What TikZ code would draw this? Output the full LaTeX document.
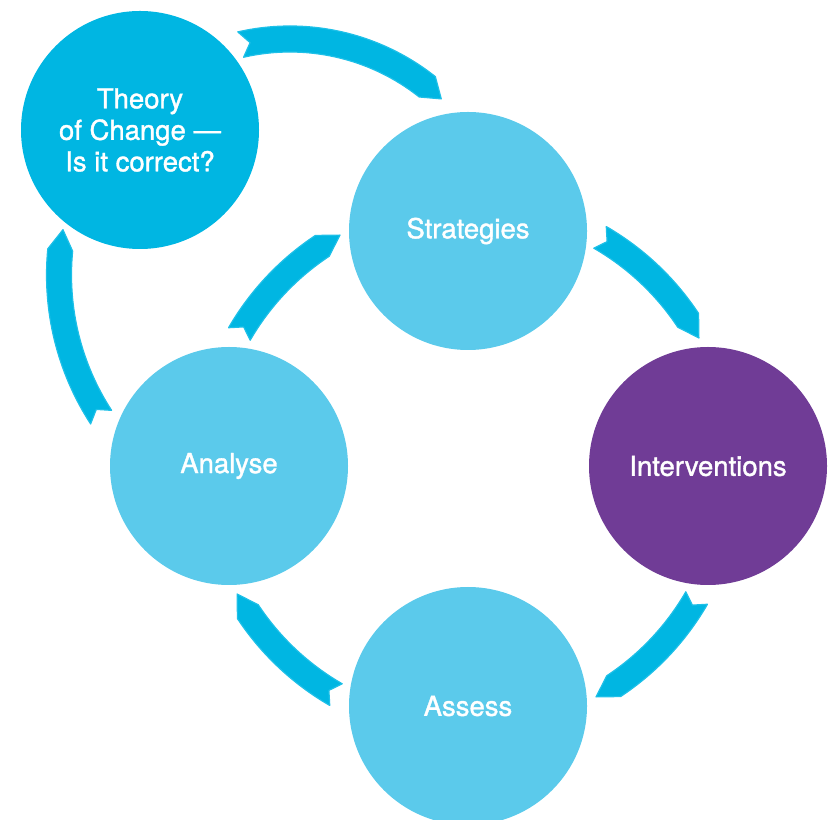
\documentclass[tikz,border=0pt]{standalone}
\usepackage{fontspec}
\setmainfont{TeX Gyre Heros}
\newfontfamily\lblfont{TeX Gyre Heros}[FakeBold=1.3]
\usetikzlibrary{calc}
\definecolor{arrowcol}{HTML}{00B6E2}
\definecolor{arrowedge}{HTML}{1EC0E8}
\definecolor{lightcirc}{HTML}{5BCAEB}
\definecolor{darkcirc}{HTML}{00B6E2}
\definecolor{purplecirc}{HTML}{703C96}
% #1 cx, #2 cy, #3 R, #4 w, #5 tail angle, #6 head angle, #7 tip angle, #8 notch angle
\newcommand{\cyclearrow}[8]{%
  \pgfmathsetmacro{\Ro}{#3+#4/2}%
  \pgfmathsetmacro{\Ri}{#3-#4/2}%
  \begin{scope}[shift={(#1,#2)}]
    \fill[arrowcol, draw=arrowedge, line width=1.2pt, line join=round]
      (#5:\Ro pt) arc[start angle=#5, end angle=#6, radius=\Ro pt]
      -- (#7:#3pt) -- (#6:\Ri pt)
      arc[start angle=#6, end angle=#5, radius=\Ri pt]
      -- (#8:#3pt) -- cycle;
  \end{scope}}
\tikzset{
  stage/.style={circle, minimum size=238pt, inner sep=0pt, text=white,
    font=\lblfont\fontsize{27.5}{31.5}\selectfont, align=center},
}
\begin{document}
\begin{tikzpicture}[x=1pt,y=1pt]
\useasboundingbox (0,0) rectangle (834,819);
% circles
\node[stage, fill=darkcirc] (theory) at (140,689) {Theory\\of Change —\\Is it correct?};
\node[stage, fill=lightcirc] (strat) at (468,588) {Strategies};
\node[stage, fill=purplecirc] (interv) at (708,353) {Interventions};
\node[stage, fill=lightcirc] (assess) at (468,113) {Assess};
\node[stage, fill=lightcirc] (analyse) at (229,353) {Analyse};
% main cycle arrows
\cyclearrow{468}{353}{264}{25}{60}{33.5}{29}{58.2}
\cyclearrow{468}{353}{264}{25}{-30}{-56.5}{-61}{-31.8}
\cyclearrow{468}{353}{264}{25}{-120}{-146.5}{-151}{-121.8}
\cyclearrow{468}{353}{264}{25}{150}{123.5}{119}{148.2}
% theory loop arrows
\cyclearrow{290}{559}{221}{26}{102.9}{51.6}{46.8}{100.4}
\cyclearrow{320}{544}{261}{25}{213}{174.5}{170}{211}
\end{tikzpicture}
\end{document}
